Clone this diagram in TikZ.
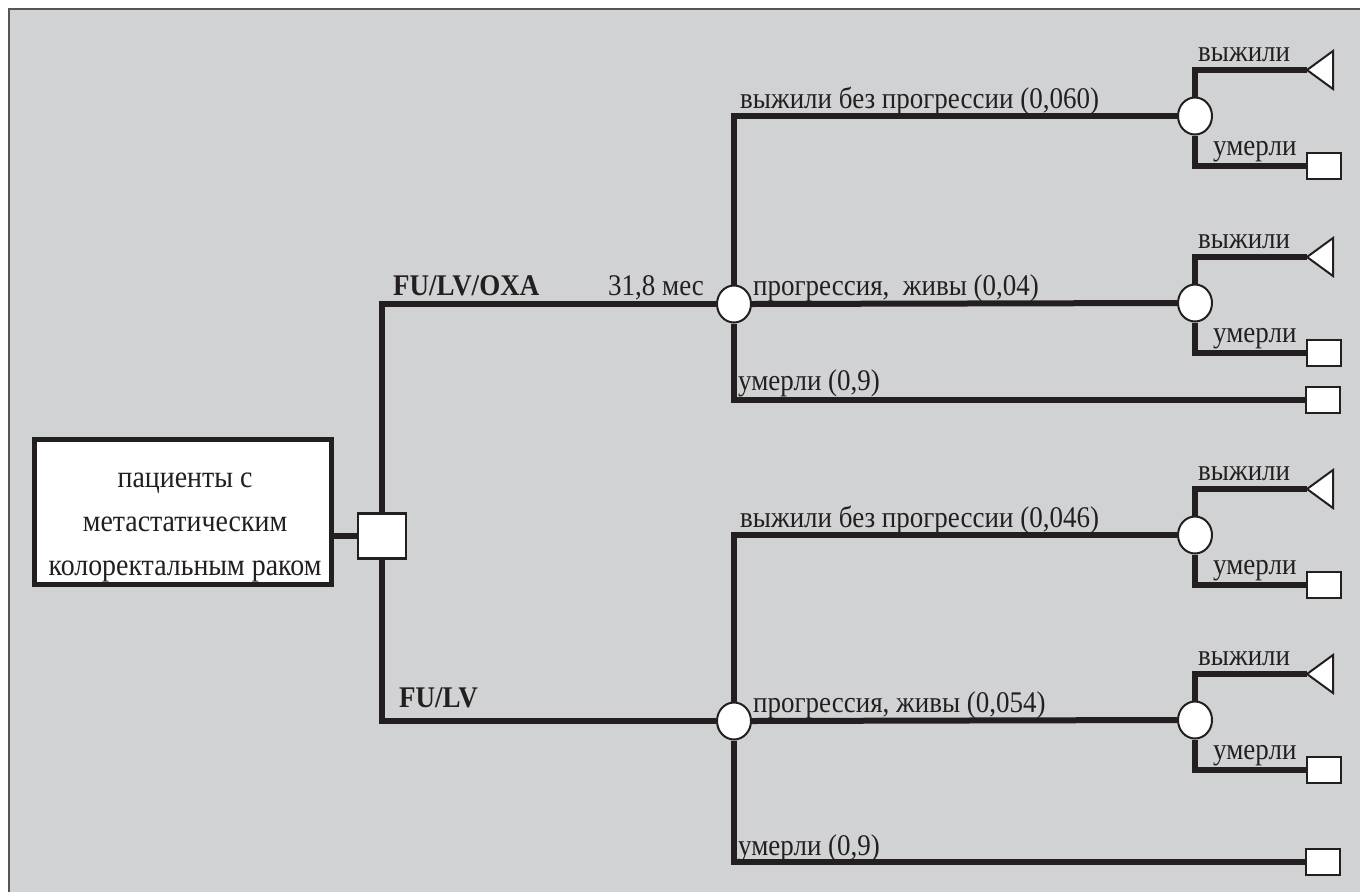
\documentclass[tikz,border=0pt]{standalone}
\usepackage{fontspec}
\setmainfont{Liberation Serif}[FakeStretch=0.9]
\usetikzlibrary{shapes.geometric}
\definecolor{bgc}{RGB}{209,210,212}
\definecolor{ink}{RGB}{35,31,32}
\definecolor{framec}{RGB}{85,85,85}
\pgfdeclarelayer{back}
\pgfdeclarelayer{lines}
\pgfsetlayers{back,lines,main}
\begin{document}
\begin{tikzpicture}[x=1pt,y=-1pt,
  branch/.style={draw=ink, line width=6pt},
  chance/.style={ellipse, draw=ink, line width=2pt, fill=white, minimum width=34pt, minimum height=37pt, inner sep=0pt},
  decision/.style={rectangle, draw=ink, line width=2.5pt, fill=white, minimum width=48pt, minimum height=45pt, inner sep=0pt},
  term/.style={rectangle, draw=ink, line width=2pt, fill=white, minimum width=34pt, minimum height=26pt, inner sep=0pt},
  tri/.style={draw=ink, line width=2pt, fill=white},
  patient/.style={rectangle, draw=ink, line width=5pt, fill=white, minimum width=297pt, minimum height=145pt, inner sep=0pt},
  ptext/.style={align=center, inner sep=0pt, font=\fontsize{31}{44}\selectfont, text=ink},
  lbl/.style={anchor=base west, inner sep=0pt, font=\fontsize{30}{36}\selectfont, text=ink},
  blbl/.style={lbl, font=\fontsize{30}{36}\selectfont\bfseries},
]
\useasboundingbox (0,0) rectangle (1360,892);
\begin{pgfonlayer}{back}
\fill[white] (0,0) rectangle (1360,892);
\fill[bgc] (9,9) rectangle (1360,892);
\draw[framec, line width=2pt] (9,892) -- (9,9) -- (1360,9);
\end{pgfonlayer}

% main nodes
\node[patient] (pat) at (183,512) {};
\node[ptext] (pattext) at (185,527) {пациенты с\\метастатическим\\колоректальным раком};
\node[decision] (dec) at (382,536) {};
\node[chance] (c1) at (734,304) {};
\node[chance] (c2) at (734,721) {};
\node[term] (t13) at (1323,400) {};
\node[term] (t23) at (1323,862) {};

% right chance nodes and their terminals
\foreach \k/\y in {1/118, 2/305, 3/537, 4/722}{
  \node[chance] (r\k) at (1195,\y-2) {};
  \coordinate (tip\k) at (1307,\y-48);
  \filldraw[tri] (tip\k) -- ++(26,-19) -- ++(0,38) -- cycle;
  \node[term] (s\k) at (1324,\y+48) {};
  \node[lbl] (lv\k) at (1198,\y-57) {выжили};
  \node[lbl] (lu\k) at (1213,\y+37) {умерли};
  \begin{pgfonlayer}{lines}
  \draw[branch] (r\k.north) |- (tip\k);
  \draw[branch] (r\k.south) |- (s\k.west);
  \end{pgfonlayer}
}

\begin{pgfonlayer}{lines}
\draw[branch] (pat.east |- dec.west) -- (dec.west);
\draw[branch] (dec.north) |- (c1.west);
\draw[branch] (dec.south) |- (c2.west);
\draw[branch] (c1.north) |- (r1.west);
\draw[branch] (c1.east) -- (r2.west);
\draw[branch] (c1.south) |- (t13.west);
\draw[branch] (c2.north) |- (r3.west);
\draw[branch] (c2.east) -- (r4.west);
\draw[branch] (c2.south) |- (t23.west);
\end{pgfonlayer}

% labels
\node[blbl] (loxa) at (393,295) {FU/LV/OXA};
\node[lbl] (ltime) at (608,295) {31,8 мес};
\node[lbl] (l11) at (740,108) {выжили без прогрессии (0,060)};
\node[lbl] (l12) at (753,295) {прогрессия,~ живы (0,04)};
\node[lbl] (l13) at (738,390) {умерли (0,9)};
\node[blbl] (llv) at (399,707) {FU/LV};
\node[lbl] (l21) at (740,527) {выжили без прогрессии (0,046)};
\node[lbl] (l22) at (753,712) {прогрессия, живы (0,054)};
\node[lbl] (l23) at (738,855) {умерли (0,9)};
\end{tikzpicture}
\end{document}
